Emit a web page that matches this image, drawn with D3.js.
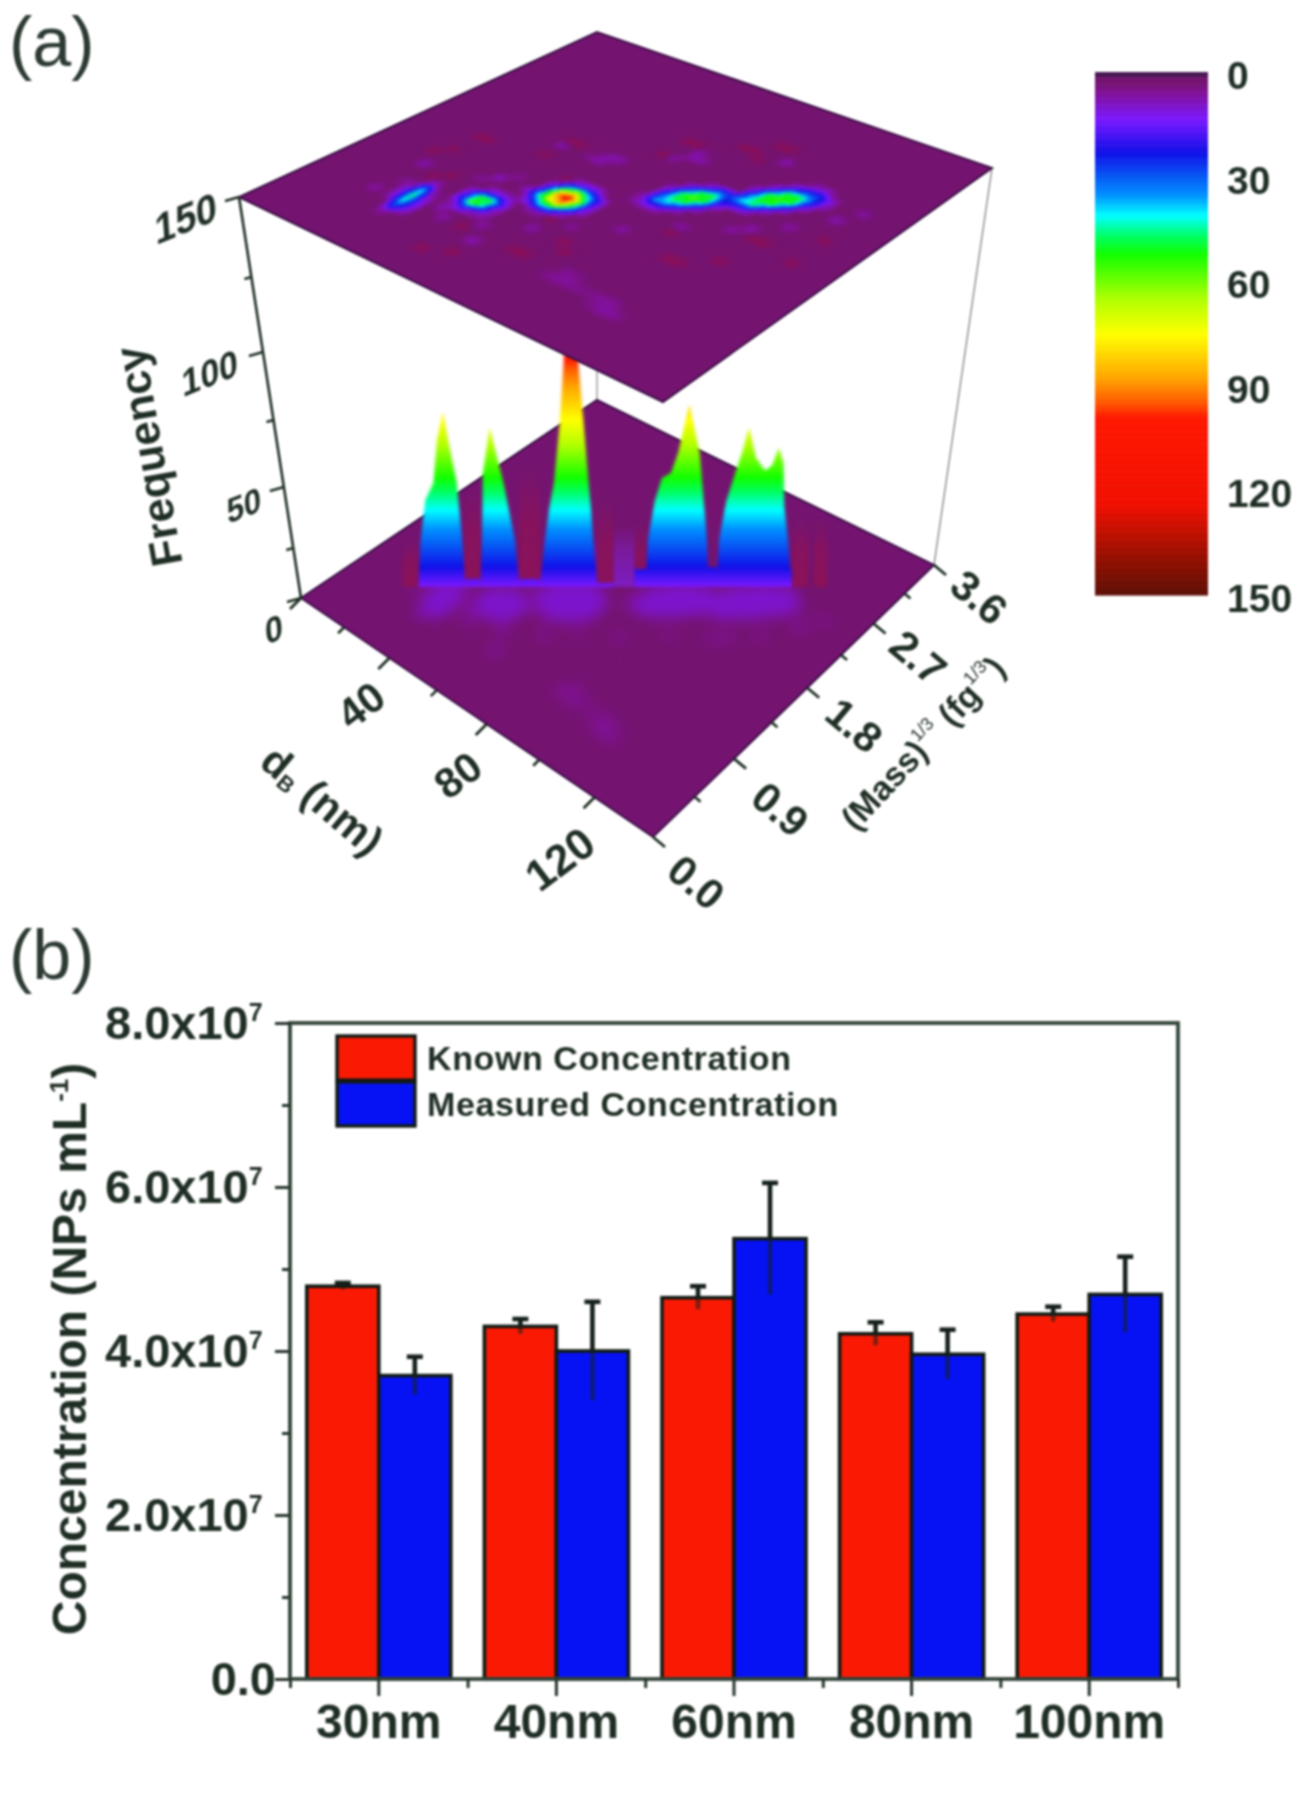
<!DOCTYPE html>
<html><head><meta charset="utf-8">
<script src="https://cdn.jsdelivr.net/npm/d3@7"></script>
<style>html,body{margin:0;background:#fff}svg{display:block}text{font-family:"Liberation Sans",Arial,sans-serif;fill:#1f2e24}</style>
</head><body><svg id="c" width="1303" height="1800"></svg>
<script>
// ---------- panel (b) data ----------
const categories=["30nm","40nm","60nm","80nm","100nm"];
const seriesNames=["Known Concentration","Measured Concentration"];
const known=[4.79e7,4.30e7,4.65e7,4.21e7,4.45e7];
const knownErr=[0.04e7,0.09e7,0.14e7,0.14e7,0.09e7];
const measured=[3.70e7,4.00e7,5.37e7,3.96e7,4.69e7];
const measuredErr=[0.23e7,0.60e7,0.68e7,0.30e7,0.46e7];
const concTicks=[0,2e7,4e7,6e7,8e7];
const concMinor=[1e7,3e7,5e7,7e7];
// ---------- panel (a) axes ----------
const dTicks=[0,40,80,120], dMinor=[20,60,100];
const massTicks=[0,0.9,1.8,2.7,3.6], massMinor=[0.45,1.35,2.25,3.15];
const freqTicks=[0,50,100,150], freqMinor=[25,75,125];
const cbarTicks=[0,30,60,90,120,150];
// colormap
const cmapValues=[0,1,3,6,13.5,23,35,41,47,52,65,75,87.5,94,99,124,140,150];
const cmapColors=["#4a1a55","#8c1058","#741470","#82129a","#7a18ff","#1010e8","#0090ff","#00ffff","#00ff60","#10ff00","#b0ff00","#ffff00","#ffa500","#ff6000","#ff1800","#f01000","#901000","#5c1008"];
// frequency map: [d bin, mass bin, frequency]; d bin = 3.5 nm, mass bin = 0.09 fg^1/3; other cells read as 3
const spot30=[[9,5,8],[9,6,28],[9,7,42],[9,8,46],[9,9,38],[9,10,12],[8,7,12],[8,8,14],[8,9,8],[10,6,14],[10,7,18],[10,8,14],[10,9,8]];
const spot40=[[13,10,56],[13,11,48],[14,11,50],[14,10,42],[12,10,22],[12,11,18],[13,9,20],[15,11,20],[14,12,14],[13,12,12],[14,9,10],[15,10,12],[15,12,10],[12,9,8]];
const spot60=[[18,15,110],[17,15,85],[18,14,85],[17,14,72],[19,15,65],[18,16,65],[17,16,46],[19,14,46],[19,16,42],[16,14,42],[17,13,40],[16,15,32],[18,13,38],[20,15,20],[19,17,16],[20,16,22],[18,17,18],[17,17,12],[16,16,12],[20,14,14],[19,13,16],[18,12,8],[17,12,8],[16,13,18],[15,14,12]];
const spot80=[[24,20,50],[25,21,58],[26,22,52],[23,19,36],[27,23,26],[22,18,8],[24,19,36],[25,20,48],[26,21,48],[27,22,24],[23,18,14],[24,21,46],[25,22,46],[26,23,30],[23,20,28],[22,19,8],[25,19,20],[26,20,22],[27,21,16],[24,18,12],[23,21,14],[24,22,20],[25,23,14]];
const spot100=[[28,23,40],[29,24,52],[30,25,55],[31,26,52],[32,27,28],[28,22,20],[29,23,46],[30,24,52],[31,25,50],[32,26,30],[33,27,14],[28,24,32],[29,25,48],[30,26,48],[31,27,28],[32,28,12],[29,22,16],[30,23,20],[31,24,22],[32,25,16],[33,26,10],[28,25,14],[29,26,18],[30,27,18],[31,28,10]];
const crimsonCells=[[5,14,1],[8,11,1],[6,18,1],[12,22,1],[12,19,1],[16,17,1],[19,25,1],[19,28,1],[23,30,1],[25,32,1],[25,29,1],[15,7,1],[17,4,1],[20,7,1],[22,10,1],[23,9,1],[27,16,1],[32,19,1],[36,22,1],[29,13,1],[32,15,1],[36,18,1],[15,3,1],[19,12,1],[6,15,1],[9,12,1],[7,18,1],[13,22,1],[20,28,1],[24,30,1],[26,32,1],[33,19,1],[30,13,1],[21,7,1]];
const glowCells=[[6,12,8],[27,30,8],[12,21,8],[12,14,9],[17,6,8],[31,20,8],[12,8,8],[15,9,8],[16,21,8],[17,22,8],[16,22,7],[15,21,6],[21,26,8],[22,26,7],[21,27,7],[20,25,7],[25,6,6],[26,6,6],[25,7,6],[24,6,5],[26,7,5],[30,5,7],[31,5,6],[30,6,6],[29,5,5],[29,6,6],[28,6,5],[27,6,5],[13,7,7],[16,8,7],[19,10,7],[21,12,6],[24,14,7],[27,17,7],[30,19,7],[33,22,7],[35,25,8],[36,27,7],[11,13,6],[13,15,6],[7,9,6],[6,7,7]];
// ridges seen in the 3-D view: [position along the ridge (nm), frequency]
const peak30=[[28.7,13],[29.2,31.5],[30.2,44.3],[32,50],[32.8,67],[34.1,78],[35.3,67],[37.2,50],[38.4,31.5],[39.1,13]];
const peak40=[[42.5,13],[42.8,31.5],[43,54],[44.5,72],[47.6,50],[50.1,31.5],[51.1,13]];
const peak60=[[55.7,13],[56.8,31.5],[57.8,42],[58.8,50],[60.1,74],[60.8,93],[61.2,106],[63.9,106],[64.4,93],[65.4,74],[66.5,50],[67,42],[67.5,31.5],[68.5,13]];
const peak80=[[79.2,13],[79.7,31.5],[81.2,44],[82.8,52],[84.8,54],[86.4,62],[88.9,81],[91.2,62],[92.2,42],[92.8,31.5],[93.2,13]];
const peak100=[[95,13],[95.5,31.5],[97.1,44],[99.1,54],[100.6,62],[102.2,72],[103.7,60],[105.7,55],[107.3,57],[108.8,64],[109.8,58],[110,42],[110.8,31.5],[111.6,13]];
const basinBands=[[25.1,28.7,31],[38.9,42.5,48],[51.1,55.7,56],[68.5,72.1,44],[76.7,79.2,37],[111.9,115.4,38],[116.5,119.5,38]];
const midBand=[[72.1,76.7,36]];
const footBands=[[39.1,42.5,17],[51.1,55.7,17],[68.5,72.1,15],[76.7,111.6,22],[93.2,95,23]];

const svg=d3.select("#c");
const defs=svg.append("defs");
function blur(id,s){
  const f=defs.append("filter").attr("id",id).attr("filterUnits","userSpaceOnUse").attr("x",0).attr("y",0).attr("width",1303).attr("height",1800).attr("color-interpolation-filters","sRGB");
  f.append("feGaussianBlur").attr("stdDeviation",s);
}
blur("soft",0.8); blur("ridgeBlur",1.8); blur("topBlur",1.8); blur("botBlur",7);
function vfade(id,stops){
  const g=defs.append("linearGradient").attr("id",id).attr("x1",0).attr("x2",0).attr("y1",0).attr("y2",1);
  stops.forEach(([o,c])=>g.append("stop").attr("offset",o).attr("stop-color",c));
}
vfade("basinFade",[[0,"#741470"],[.45,"#86125e"],[1,"#8a1258"]]);
vfade("midFade",[[0,"#741470"],[.4,"#7a1a9c"],[1,"#7d1cc0"]]);
const root=svg.append("g").attr("filter","url(#soft)");
const color=d3.scaleLinear().domain(cmapValues).range(cmapColors).clamp(true);

// ---------- projection of (d, mass) onto a plate ----------
const dU=d3.scaleLinear([0,140],[0,1]), massV=d3.scaleLinear([0,3.6],[0,1]);
function plate(L,B,R,T){
  const sx=L[0]-B[0]+R[0]-T[0], sy=L[1]-B[1]+R[1]-T[1];
  const dx1=B[0]-R[0],dx2=T[0]-R[0],dy1=B[1]-R[1],dy2=T[1]-R[1];
  const den=dx1*dy2-dx2*dy1;
  const g=(sx*dy2-dx2*sy)/den,h=(dx1*sy-sx*dy1)/den;
  const a=B[0]-L[0]+g*B[0],b=T[0]-L[0]+h*T[0],d=B[1]-L[1]+g*B[1],e=T[1]-L[1]+h*T[1];
  const f=(u,v)=>{const w=g*u+h*v+1;return [(a*u+b*v+L[0])/w,(d*u+e*v+L[1])/w];};
  f.corners=[L,B,R,T];
  return f;
}
const topPlate=plate([239,197],[663,402],[992,168],[597,32]);
const botPlate=plate([301,598],[653,837],[934,565],[597,400]);

// ---------- frequency grid ----------
const N=40, BASE=3;
const grid=d3.range(N).map(()=>new Array(N).fill(BASE));
const active=new Set();
[crimsonCells,glowCells,spot30,spot40,spot60,spot80,spot100].forEach(list=>list.forEach(([i,j,v])=>{
  grid[i][j]=v;
  for(let a=-1;a<=1;a++)for(let b=-1;b<=1;b++){active.add((i+a)*100+(j+b));}
}));
const at=(i,j)=>(i<0||j<0||i>=N||j>=N)?BASE:grid[i][j];
function sample(a,b){
  const x=a-.5,y=b-.5,i=Math.floor(x),j=Math.floor(y),fx=x-i,fy=y-j;
  return at(i,j)*(1-fx)*(1-fy)+at(i+1,j)*fx*(1-fy)+at(i,j+1)*(1-fx)*fy+at(i+1,j+1)*fx*fy;
}
const SUB=3;
const mesh=[];
active.forEach(k=>{
  const i=Math.floor(k/100),j=k%100;
  for(let s=0;s<SUB;s++)for(let t=0;t<SUB;t++){
    const a0=i+s/SUB,b0=j+t/SUB,a1=a0+1/SUB,b1=b0+1/SUB;
    mesh.push({a0,b0,a1,b1,v:sample((a0+a1)/2,(b0+b1)/2)});
  }
});
function drawPlate(g,proj,valueOf,filter){
  const poly=g.append("g");
  poly.append("polygon").attr("points",proj.corners.map(p=>p.join(",")).join(" "))
    .attr("fill",color(BASE)).attr("stroke","#3e1048").attr("stroke-width",2);
  const P=(a,b)=>proj(dU(a*3.5),massV(b*0.09)).map(n=>n.toFixed(1)).join(",");
  poly.append("g").attr("filter",`url(#${filter})`).selectAll("polygon").data(mesh.filter(m=>Math.abs(valueOf(m.v)-BASE)>.15)).join("polygon")
    .attr("points",m=>[P(m.a0,m.b0),P(m.a1,m.b0),P(m.a1,m.b1),P(m.a0,m.b1)].join(" "))
    .attr("fill",m=>color(valueOf(m.v))).attr("stroke",m=>color(valueOf(m.v))).attr("stroke-width",.6);
}

// ---------- panel (a) ----------
const A=root.append("g");
const freqY=d3.scaleLinear().domain([13,23,41,50,75,94,110]).range([587,567,510,483,420,370,335]);
const zAxisY=d3.scaleLinear().domain([0,25,50,75,100,125,150]).range([598,548,487,420,352,277,197]);
const zAxisX=d3.scaleLinear().domain([598,197]).range([301,239]);
A.append("line").attr("x1",597).attr("y1",340).attr("x2",597).attr("y2",400).attr("stroke","#888").attr("stroke-width",1.2);
A.append("line").attr("x1",992).attr("y1",168).attr("x2",934).attr("y2",565).attr("stroke","#777").attr("stroke-width",1.2);
drawPlate(A,botPlate,v=>v<BASE?BASE:Math.min(v,10),"botBlur");

// ridge surface
const ridgeX=d3.scaleLinear().domain([33.7,111.6]).range([441,791.5]);
const grad=defs.append("linearGradient").attr("id","ridge").attr("gradientUnits","userSpaceOnUse")
  .attr("x1",0).attr("x2",0).attr("y1",freqY(13)).attr("y2",freqY(110));
cmapValues.filter(v=>v>=13).concat([110]).sort(d3.ascending).filter(v=>v<=110).forEach(v=>{
  grad.append("stop").attr("offset",(freqY(13)-freqY(v))/(freqY(13)-freqY(110))).attr("stop-color",color(v));
});
const ridgeGroup=A.append("g").attr("filter","url(#ridgeBlur)");
const bandPath=d=>`M${ridgeX(d[0])},${freqY(13)}V${freqY(d[2])}H${ridgeX(d[1])}V${freqY(13)}Z`;
ridgeGroup.selectAll(".basin").data(basinBands).join("path").attr("d",bandPath).attr("fill","url(#basinFade)");
ridgeGroup.selectAll(".mid").data(midBand).join("path").attr("d",bandPath).attr("fill","url(#midFade)");
ridgeGroup.selectAll(".foot").data(footBands).join("path").attr("d",bandPath).attr("fill","url(#ridge)");
const area=d3.area().x(d=>ridgeX(d[0])).y0(freqY(13)).y1(d=>freqY(d[1]));
ridgeGroup.selectAll(".peak").data([peak30,peak40,peak60,peak80,peak100]).join("path").attr("d",area).attr("fill","url(#ridge)");

drawPlate(A,topPlate,v=>v,"topBlur");

// axes of the box
const axisInk="#1d2e22";
A.append("line").attr("x1",zAxisX(zAxisY(0))).attr("y1",zAxisY(0)).attr("x2",zAxisX(zAxisY(150))).attr("y2",zAxisY(150)).attr("stroke",axisInk).attr("stroke-width",2.6);
function ticks3d(list,pos,dx,dy,w){
  A.append("g").selectAll("line").data(list).join("line")
    .attr("x1",d=>pos(d)[0]).attr("y1",d=>pos(d)[1])
    .attr("x2",d=>pos(d)[0]+dx).attr("y2",d=>pos(d)[1]+dy)
    .attr("stroke",axisInk).attr("stroke-width",w);
}
const zPos=v=>[zAxisX(zAxisY(v)),zAxisY(v)];
ticks3d(freqTicks,zPos,-14,4,2.6); ticks3d(freqMinor,zPos,-7,2,2.4);
const dPos=d=>botPlate(dU(d),0);
ticks3d(dTicks,dPos,-11,11,2.8); ticks3d(dMinor,dPos,-6,6,2.6);
const mPos=m=>botPlate(1,massV(m));
ticks3d(massTicks,mPos,12,10,2.8); ticks3d(massMinor,mPos,6,5,2.6);

function label3d(x,y,rot,size,txt,skew){
  return A.append("text").attr("transform",`translate(${x},${y}) rotate(${rot})${skew?` skewX(${skew})`:""}`)
    .attr("text-anchor","middle").attr("dominant-baseline","middle").attr("font-size",size).attr("font-weight","bold").text(txt);
}
const zLabelPos=[[274,632],[244,508],[210,376],[186,222]];
const zLabelSize=[34,33,36,40];
freqTicks.forEach((t,i)=>label3d(zLabelPos[i][0],zLabelPos[i][1],-22,zLabelSize[i],t,-18));
const dLabelPos=[[363,708],[460,778],[562,862]];
dTicks.slice(1).forEach((t,i)=>label3d(dLabelPos[i][0],dLabelPos[i][1],-37,i==2?44:42,t));
const mLabelPos=[[694,885],[778,812],[852,728],[916,660],[977,600]];
massTicks.forEach((t,i)=>label3d(mLabelPos[i][0],mLabelPos[i][1],40,42,t.toFixed(1)));
label3d(152,456,-100,44,"Frequency");
const dt=label3d(320,803,40,42,"");
dt.append("tspan").text("d");
dt.append("tspan").attr("font-size",22).attr("dy",9).text("B");
dt.append("tspan").attr("dy",-9).text(" (nm)");
const mt=label3d(925,745,-47,34,"");
mt.append("tspan").text("(Mass)");
mt.append("tspan").attr("font-size",18).attr("dy",-12).attr("font-weight","normal").text("1/3");
mt.append("tspan").attr("dy",12).text(" (fg");
mt.append("tspan").attr("font-size",18).attr("dy",-12).attr("font-weight","normal").text("1/3");
mt.append("tspan").attr("dy",12).text(")");

// colour bar
const cbY=d3.scaleLinear().domain([0,150]).range([72,595]);
A.append("g").selectAll("rect").data(d3.range(0,150,0.5)).join("rect")
  .attr("x",1095).attr("width",113).attr("y",d=>cbY(d)).attr("height",d=>cbY(d+.5)-cbY(d)+.6).attr("fill",d=>d<1.2?"#4a1a55":color(d<3?3+(d-1.2)*.3:d));
A.append("g").selectAll("text").data(cbarTicks).join("text").attr("x",1227).attr("y",d=>cbY(d)+17)
  .attr("font-size",39).attr("font-weight","bold").text(d=>d);
A.append("text").attr("x",9).attr("y",66).attr("font-size",70).attr("style","fill:#2c3a32").text("(a)");

// ---------- panel (b) ----------
const B=root.append("g");
B.append("text").attr("x",9).attr("y",979).attr("font-size",70).attr("style","fill:#2c3a32").text("(b)");
const x0=d3.scaleBand().domain(categories).range([290,1178]);
const x1=d3.scaleBand().domain(seriesNames).range([0,x0.bandwidth()]).paddingOuter(.233);
const y=d3.scaleLinear().domain([0,8e7]).range([1679,1023]);
const rows=categories.map((c,i)=>({c,bars:[
  {s:seriesNames[0],v:known[i],e:knownErr[i],f:"#fa1a04"},
  {s:seriesNames[1],v:measured[i],e:measuredErr[i],f:"#0612f4"}]}));
const grp=B.append("g").selectAll("g").data(rows).join("g").attr("transform",d=>`translate(${x0(d.c)},0)`);
grp.selectAll("rect").data(d=>d.bars).join("rect")
  .attr("x",d=>x1(d.s)).attr("width",x1.bandwidth()).attr("y",d=>y(d.v)).attr("height",d=>y(0)-y(d.v))
  .attr("fill",d=>d.f).attr("stroke","#101a14").attr("stroke-width",3.6);
const cx=d=>x1(d.s)+x1.bandwidth()/2;
grp.selectAll(".eu").data(d=>d.bars).join("line").attr("x1",cx).attr("x2",cx).attr("y1",d=>y(d.v)).attr("y2",d=>y(d.v+d.e)).attr("stroke","#15201a").attr("stroke-width",4.6);
grp.selectAll(".el").data(d=>d.bars).join("line").attr("x1",cx).attr("x2",cx).attr("y1",d=>y(d.v)).attr("y2",d=>y(d.v-d.e)).attr("stroke","#15201a").attr("stroke-width",4.6).attr("stroke-opacity",.55);
grp.selectAll(".cap").data(d=>d.bars).join("line").attr("x1",d=>cx(d)-8).attr("x2",d=>cx(d)+8).attr("y1",d=>y(d.v+d.e)).attr("y2",d=>y(d.v+d.e)).attr("stroke","#15201a").attr("stroke-width",4.6);

const ink="#33443a";
B.append("rect").attr("x",290).attr("y",1023).attr("width",888).attr("height",656).attr("fill","none").attr("stroke",ink).attr("stroke-width",3.8);
B.append("g").attr("transform","translate(290,0)").call(d3.axisLeft(y).tickValues(concTicks).tickSize(15).tickFormat(""));
B.append("g").attr("transform","translate(290,0)").call(d3.axisLeft(y).tickValues(concMinor).tickSize(8).tickFormat(""));
B.append("g").attr("transform","translate(0,1679)").call(d3.axisBottom(x0).tickSize(17).tickFormat(""));
const edge=d3.scaleLinear().domain([0,categories.length]).range([290,1178]);
B.append("g").attr("transform","translate(0,1679)").call(d3.axisBottom(edge).tickValues(d3.range(0,categories.length+1)).tickSize(9).tickFormat(""));
B.selectAll(".domain").remove();
B.selectAll(".tick line").attr("stroke","#26352b").attr("stroke-width",3);

concTicks.forEach(t=>{
  if(t===0){B.append("text").attr("x",276).attr("y",y(0)+16).attr("text-anchor","end").attr("font-size",47).attr("font-weight","bold").text("0.0");return;}
  const tx=B.append("text").attr("x",105).attr("y",y(t)+16).attr("font-size",47).attr("font-weight","bold").text((t/1e7).toFixed(1)+"x10");
  tx.append("tspan").attr("font-size",25).attr("dy",-18).text("7");
});
B.append("g").selectAll("text").data(categories).join("text").attr("x",d=>x0(d)+x0.bandwidth()/2).attr("y",1738)
  .attr("text-anchor","middle").attr("font-size",48).attr("font-weight","bold").text(d=>d);
const yt=B.append("text").attr("transform","translate(86,1349) rotate(-90)").attr("text-anchor","middle").attr("font-size",48).attr("font-weight","bold");
yt.append("tspan").text("Concentration (NPs mL");
yt.append("tspan").attr("font-size",26).attr("dy",-18).text("-1");
yt.append("tspan").attr("dy",18).text(")");

// legend
const legY=d3.scaleBand().domain(seriesNames).range([1036,1126]).paddingInner(.04);
const leg=B.append("g").selectAll("g").data(seriesNames).join("g");
leg.append("rect").attr("x",337).attr("width",78).attr("y",d=>legY(d)).attr("height",legY.bandwidth())
  .attr("fill",(d,i)=>i?"#0612f4":"#fa1a04").attr("stroke","#101a14").attr("stroke-width",3.4);
leg.append("text").attr("x",427).attr("y",d=>legY(d)+legY.bandwidth()/2+12).attr("font-size",34).attr("letter-spacing",.6).attr("font-weight","bold").text(d=>d);
</script></body></html>
